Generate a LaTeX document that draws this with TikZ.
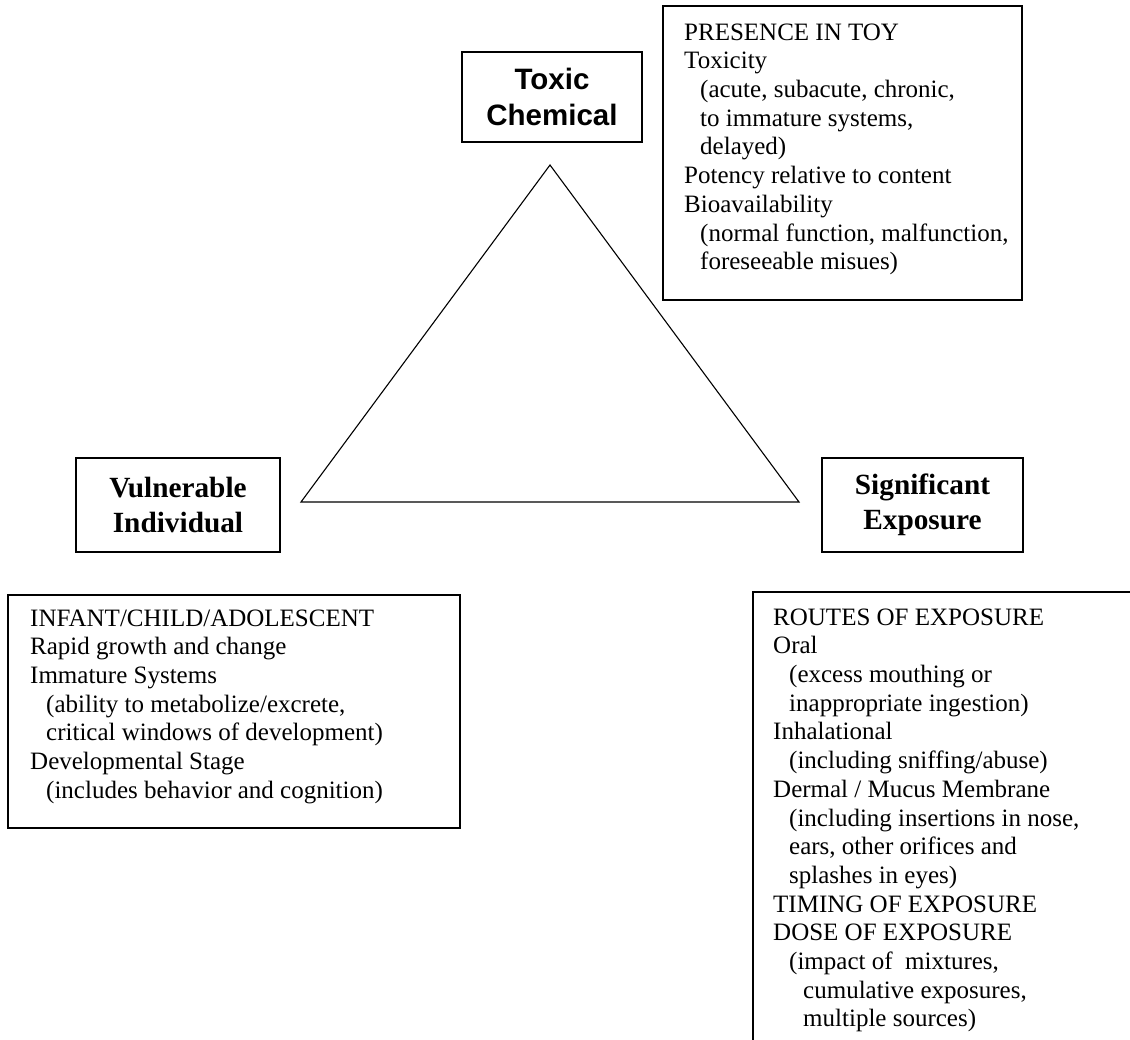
\documentclass[tikz,border=0pt]{standalone}
\usepackage{fontspec}
\setmainfont{Liberation Serif}
\newfontfamily\headsansfont{Liberation Sans}
\usetikzlibrary{fit}
\newcommand{\myind}{\hspace*{16pt}}
\newcommand{\myindd}{\hspace*{30pt}}
\begin{document}
\begin{tikzpicture}[x=1pt,y=-1pt,
  boxline/.style={draw, line width=1.5pt, inner sep=0pt},
  bodytext/.style={anchor=north west, inner sep=0pt, align=left, font=\fontsize{25}{28.7}\selectfont},
  headserif/.style={boxline, align=center, font=\fontsize{29.3}{35}\selectfont\bfseries},
  headsans/.style={boxline, align=center, font=\headsansfont\fontsize{29.5}{36}\selectfont\bfseries},
  tri/.style={draw, line width=1.1pt, line join=miter}
]
\useasboundingbox (0,0) rectangle (1130,1040);
\fill[white] (0,0) rectangle (1130,1040);
\clip (0,0) rectangle (1130,1040);

% triangle
\coordinate (apex) at (550,165);
\coordinate (bl) at (301,502);
\coordinate (br) at (799,502);
\draw[tri] (apex) -- (bl) -- (br) -- cycle;

% headings
\node[headsans, minimum width=180pt, minimum height=90pt] (toxic) at (552,97) {Toxic\\Chemical};
\node[headserif, minimum width=204pt, minimum height=94pt] (vuln) at (178,505) {Vulnerable\\Individual};
\node[headserif, minimum width=201pt, minimum height=94pt] (signif) at (922.5,505) {Significant\\Exposure};

% presence box
\node[boxline, fit={(663,6) (1022,300)}] (presence) {};
\node[bodytext] (presencetxt) at (684,19.9) {\strut PRESENCE IN TOY\\
Toxicity\\
\myind(acute, subacute, chronic,\\
\myind to immature systems,\\
\myind delayed)\\
Potency relative to content\\
Bioavailability\\
\myind(normal function, malfunction,\\
\myind foreseeable misues)};

% infant box
\node[boxline, fit={(8,595) (460,828)}] (infant) {};
\node[bodytext] (infanttxt) at (30,605.9) {\strut INFANT/CHILD/ADOLESCENT\\
Rapid growth and change\\
Immature Systems\\
\myind(ability to metabolize/excrete,\\
\myind critical windows of development)\\
Developmental Stage\\
\myind(includes behavior and cognition)};

% routes box
\node[boxline, fit={(753,592) (1160,1070)}] (routes) {};
\node[bodytext] (routestxt) at (773,604.9) {\strut ROUTES OF EXPOSURE\\
Oral\\
\myind(excess mouthing or\\
\myind inappropriate ingestion)\\
Inhalational\\
\myind(including sniffing/abuse)\\
Dermal / Mucus Membrane\\
\myind(including insertions in nose,\\
\myind ears, other orifices and\\
\myind splashes in eyes)\\
TIMING OF EXPOSURE\\
DOSE OF EXPOSURE\\
\myind(impact of\ \ mixtures,\\
\myindd cumulative exposures,\\
\myindd multiple sources)};
\end{tikzpicture}
\end{document}
